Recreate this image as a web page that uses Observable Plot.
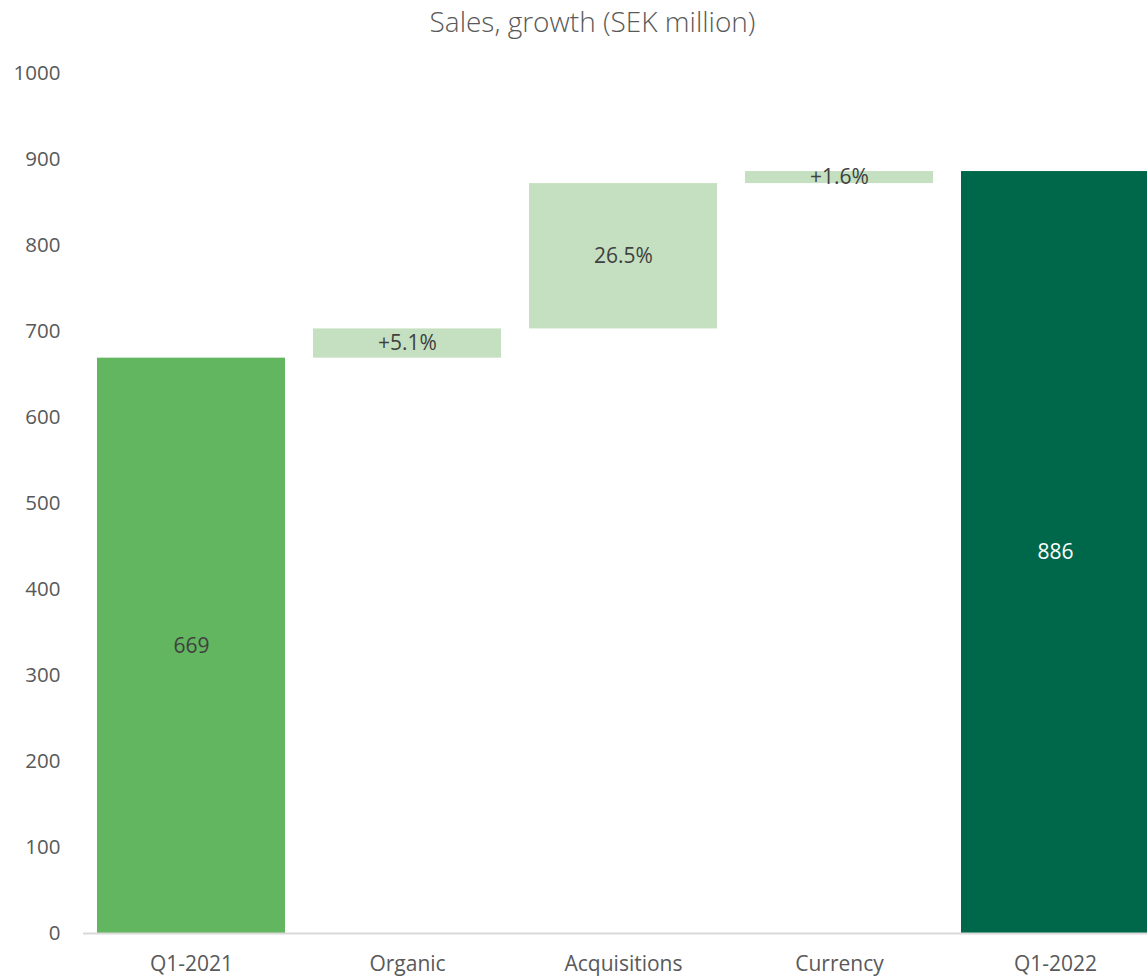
<!DOCTYPE html>
<html>
<head>
<meta charset="utf-8">
<script src="https://cdn.jsdelivr.net/npm/d3@7"></script>
<script src="https://cdn.jsdelivr.net/npm/@observablehq/plot@0.6"></script>
<style>
  html, body { margin: 0; padding: 0; background: #fff; overflow: hidden; }
  #title { height: 45px; line-height: 42px; text-align: center; font-family: "Open Sans", sans-serif; font-weight: 300; font-size: 28px; color: #595959; width: 1147px; padding-left: 38px; box-sizing: border-box; }
  #chart svg { overflow: hidden; }
</style>
</head>
<body>
<div id="title">Sales, growth (SEK million)</div>
<div id="chart"></div>
<script>
const categories = ["Q1-2021", "Organic", "Acquisitions", "Currency", "Q1-2022"];
const barStart = [0, 669, 703, 872, 0];
const barEnd = [669, 703, 872, 886, 886];
const barType = ["start", "change", "change", "change", "end"];
const barLabels = ["669", "+5.1%", "26.5%", "+1.6%", "886"];
const yTicks = [0, 100, 200, 300, 400, 500, 600, 700, 800, 900, 1000];

const data = categories.map((c, i) => ({
  category: c,
  y1: barStart[i],
  y2: barEnd[i],
  type: barType[i],
  label: barLabels[i],
  mid: (barStart[i] + barEnd[i]) / 2
}));

const chart = Plot.plot({
  width: 1147,
  height: 932,
  marginLeft: 83,
  marginRight: 0,
  marginTop: 28,
  marginBottom: 44,
  style: { fontFamily: "'Open Sans', sans-serif", fontSize: "20px", color: "#595959", background: "#fff" },
  x: { domain: categories, range: [83, 1163], paddingInner: 0.1296, paddingOuter: 0.0648, align: 0.5, label: null },
  y: { domain: [0, 1000], label: null },
  color: { domain: ["start", "change", "end"], range: ["#62b65f", "#c5e0c0", "#00684a"] },
  marks: [
    Plot.barY(data, { x: "category", y1: "y1", y2: "y2", fill: "type" }),
    Plot.ruleY([0], { stroke: "#d9d9d9", strokeWidth: 2 }),
    Plot.axisY({ ticks: yTicks, tickFormat: "d", tickSize: 0, tickPadding: 23, fontSize: 20.5, fill: "#595959" }),
    Plot.axisX({ tickSize: 0, tickPadding: 23, fontSize: 21, fill: "#595959" }),
    Plot.text(data, { x: "category", y: "mid", text: "label", fontSize: 21, fill: d => d.type === "end" ? "#ffffff" : "#404040" })
  ]
});
document.getElementById("chart").appendChild(chart);
</script>
</body>
</html>
